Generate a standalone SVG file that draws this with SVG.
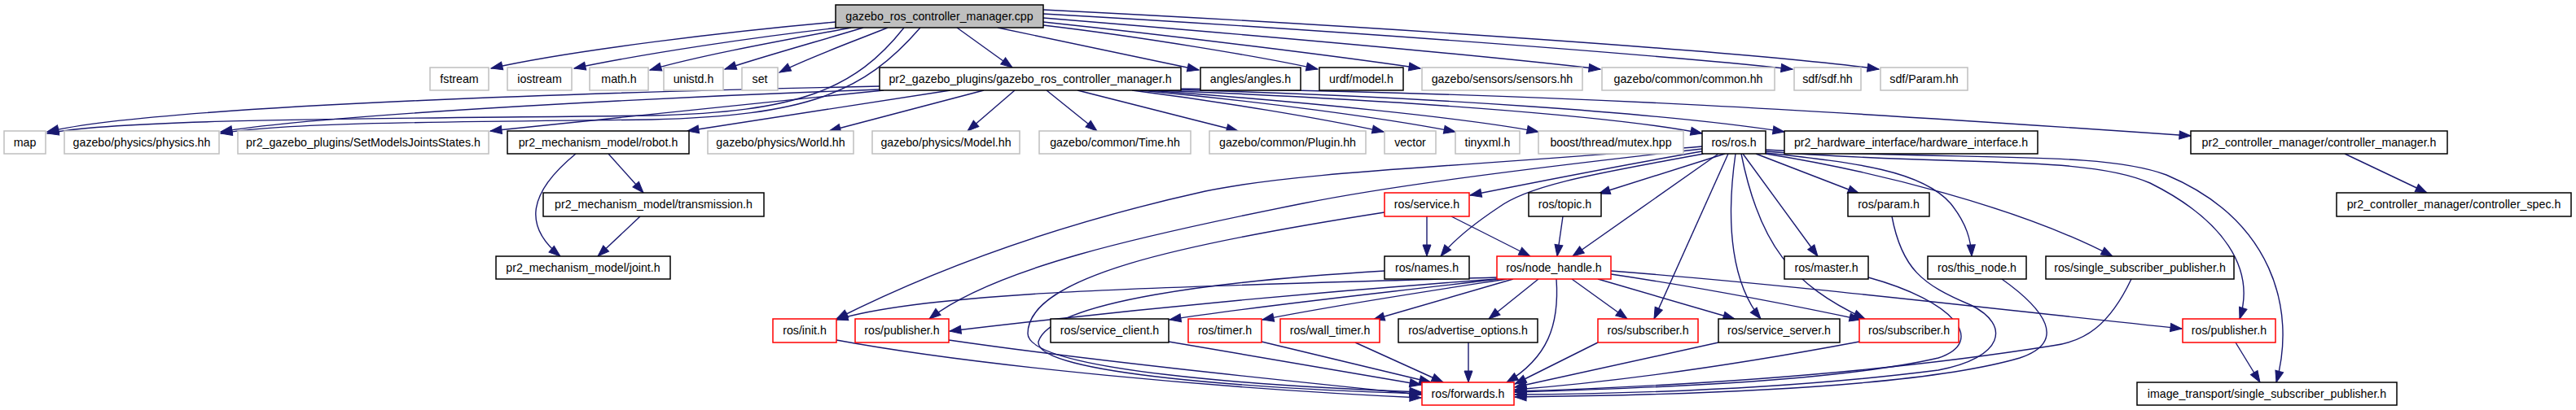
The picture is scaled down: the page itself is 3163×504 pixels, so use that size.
<svg xmlns="http://www.w3.org/2000/svg" width="3163" height="504" viewBox="0 0 3163 504">
<style>
rect{stroke-width:1.5;fill:#fff}
.g rect{stroke:#bfbfbf}
.b rect{stroke:#000}
.r rect{stroke:#f00}
.m rect{stroke:#000;fill:#bfbfbf}
text{font-family:"Liberation Sans",Arial,sans-serif;font-size:14.2px;text-anchor:middle;fill:#000}
#edges path{fill:none;stroke:#191970;stroke-width:1.4;marker-end:url(#a)}
</style>
<defs>
<marker id="a" markerUnits="userSpaceOnUse" markerWidth="16" markerHeight="12" refX="14" refY="5" orient="auto" overflow="visible">
<path d="M0,0 L14,5 L0,10 z" fill="#191970" stroke="#191970" stroke-width="1"/>
</marker>
</defs>
<rect x="0" y="0" width="3163" height="504" fill="#fff" stroke="none"/>
<g id="edges">
<path d="M1026,27 C900,38 700,62 603,84"/>
<path d="M1030,34 C930,45 790,66 705,84"/>
<path d="M1045,34 C960,50 860,68 798,86"/>
<path d="M1060,34 C1000,52 935,70 890,85"/>
<path d="M1090,34 C1045,52 990,72 957,89"/>
<path d="M1110,34 C1050,110 980,138 800,142 C500,146 150,145 58,164"/>
<path d="M1130,34 C1060,115 990,142 800,147 C550,150 350,150 271,164"/>
<path d="M1175,34 L1243,83"/>
<path d="M1225,34 L1472,86"/>
<path d="M1281,31 C1400,45 1550,70 1618,85"/>
<path d="M1281,27 C1450,45 1650,70 1744,84"/>
<path d="M1281,22 C1500,40 1800,66 1965,85"/>
<path d="M1281,17 C1600,35 2000,64 2201,85"/>
<path d="M1281,12 C1700,33 2150,64 2307,85"/>
<path d="M1080,106 C800,112 200,128 58,162"/>
<path d="M1080,110 C850,118 400,140 271,162"/>
<path d="M1085,111 C900,130 700,150 602,161"/>
<path d="M1167,111 L844,161"/>
<path d="M1208,111 L1018,161"/>
<path d="M1246,111 L1188,161"/>
<path d="M1285,111 L1347,161"/>
<path d="M1323,111 L1520,161"/>
<path d="M1390,111 C1500,125 1620,145 1699,162"/>
<path d="M1400,111 C1550,125 1700,145 1787,162"/>
<path d="M1410,111 C1600,125 1800,145 1889,162"/>
<path d="M1420,111 C1700,122 1980,142 2090,164"/>
<path d="M1430,110 C1750,118 2050,140 2191,162"/>
<path d="M1440,109 C1900,113 2300,140 2690,167"/>
<path d="M747,189 L790,237"/>
<path d="M707,189 C645,240 645,280 688,315"/>
<path d="M786,266 L734,315"/>
<path d="M2879,189 L2980,237"/>
<path d="M2090,186 C1980,205 1880,225 1805,240"/>
<path d="M2092,189 C1980,210 1880,225 1840,255 C1810,275 1785,295 1769,315"/>
<path d="M2118,189 L1963,238"/>
<path d="M2110,189 L1931,315"/>
<path d="M2090,180 C1800,205 1600,210 1480,235 C1300,275 1150,330 1027,392"/>
<path d="M2090,183 C1850,210 1700,230 1600,250 C1400,290 1220,330 1141,392"/>
<path d="M2122,189 L2031,392"/>
<path d="M2131,189 C2118,280 2128,350 2162,392"/>
<path d="M2138,189 C2160,300 2200,350 2290,392"/>
<path d="M2140,189 L2232,315"/>
<path d="M2156,189 L2283,238"/>
<path d="M2168,188 C2280,200 2360,210 2395,250 C2415,275 2420,295 2421,315"/>
<path d="M2168,189 C2300,210 2480,255 2594,315"/>
<path d="M2168,186 C2400,205 2560,190 2640,225 C2730,270 2770,330 2750,392"/>
<path d="M2168,184 C2420,198 2580,185 2660,215 C2790,270 2820,380 2795,470"/>
<path d="M1752,266 L1752,315"/>
<path d="M1782,266 L1879,315"/>
<path d="M1919,266 L1912,315"/>
<path d="M1838,341 C1500,352 1150,355 1027,393"/>
<path d="M1838,343 C1600,360 1350,385 1166,407"/>
<path d="M1840,343 C1700,360 1550,375 1436,393"/>
<path d="M1850,343 C1740,360 1640,375 1550,393"/>
<path d="M1858,343 L1686,393"/>
<path d="M1889,343 L1828,392"/>
<path d="M1930,343 L1998,392"/>
<path d="M1962,343 L2130,392"/>
<path d="M1978,337 C2100,355 2200,375 2285,393"/>
<path d="M1978,333 C2200,350 2450,380 2679,404"/>
<path d="M1027,418 C1200,450 1500,478 1745,489"/>
<path d="M1165,418 C1350,445 1600,470 1745,485"/>
<path d="M1700,261 C1450,300 1262,340 1262,410 C1262,455 1550,475 1745,482"/>
<path d="M1700,333 C1500,345 1290,370 1275,420 C1270,460 1550,478 1745,484"/>
<path d="M1435,420 L1745,473"/>
<path d="M1549,420 L1757,470"/>
<path d="M1664,421 L1772,470"/>
<path d="M1803,421 L1803,470"/>
<path d="M1911,343 C1915,400 1900,440 1850,470"/>
<path d="M1962,421 L1860,472"/>
<path d="M2110,421 C2000,445 1920,462 1860,476"/>
<path d="M2283,420 C2150,445 2000,468 1860,479"/>
<path d="M2294,341 C2400,370 2440,420 2380,440 C2250,470 2000,478 1860,482"/>
<path d="M2323,266 C2335,330 2360,350 2420,375 C2470,400 2460,440 2380,455 C2200,478 2000,484 1860,485"/>
<path d="M2458,343 C2510,380 2540,420 2480,440 C2350,478 2050,486 1860,488"/>
<path d="M2617,343 C2590,400 2560,420 2520,425 C2300,460 2050,475 1860,481"/>
<path d="M2745,421 L2775,470"/>
</g>
<g id="n_main" class="m"><rect x="1026" y="6" width="255" height="28"/><text x="1153.5" y="25">gazebo_ros_controller_manager.cpp</text></g>
<g id="n_fstream" class="g"><rect x="528" y="83" width="72" height="28"/><text x="564" y="102">fstream</text></g>
<g id="n_iostream" class="g"><rect x="623" y="83" width="79" height="28"/><text x="662.5" y="102">iostream</text></g>
<g id="n_math" class="g"><rect x="724" y="83" width="72" height="28"/><text x="760" y="102">math.h</text></g>
<g id="n_unistd" class="g"><rect x="815" y="83" width="73" height="28"/><text x="851.5" y="102">unistd.h</text></g>
<g id="n_set" class="g"><rect x="911" y="83" width="44" height="28"/><text x="933" y="102">set</text></g>
<g id="n_gcm_h" class="b"><rect x="1080" y="83" width="370" height="28"/><text x="1265" y="102">pr2_gazebo_plugins/gazebo_ros_controller_manager.h</text></g>
<g id="n_angles" class="b"><rect x="1474" y="83" width="123" height="28"/><text x="1535.5" y="102">angles/angles.h</text></g>
<g id="n_urdf" class="b"><rect x="1620" y="83" width="103" height="28"/><text x="1671.5" y="102">urdf/model.h</text></g>
<g id="n_sensors" class="g"><rect x="1746" y="83" width="197" height="28"/><text x="1844.5" y="102">gazebo/sensors/sensors.hh</text></g>
<g id="n_common" class="g"><rect x="1967" y="83" width="212" height="28"/><text x="2073" y="102">gazebo/common/common.hh</text></g>
<g id="n_sdf" class="g"><rect x="2203" y="83" width="82" height="28"/><text x="2244" y="102">sdf/sdf.hh</text></g>
<g id="n_param_hh" class="g"><rect x="2309" y="83" width="107" height="28"/><text x="2362.5" y="102">sdf/Param.hh</text></g>
<g id="n_map" class="g"><rect x="5" y="161" width="51" height="28"/><text x="30.5" y="180">map</text></g>
<g id="n_physics" class="g"><rect x="79" y="161" width="190" height="28"/><text x="174" y="180">gazebo/physics/physics.hh</text></g>
<g id="n_setmodels" class="g"><rect x="292" y="161" width="308" height="28"/><text x="446" y="180">pr2_gazebo_plugins/SetModelsJointsStates.h</text></g>
<g id="n_robot" class="b"><rect x="623" y="161" width="223" height="28"/><text x="734.5" y="180">pr2_mechanism_model/robot.h</text></g>
<g id="n_world" class="g"><rect x="869" y="161" width="179" height="28"/><text x="958.5" y="180">gazebo/physics/World.hh</text></g>
<g id="n_model" class="g"><rect x="1071" y="161" width="181" height="28"/><text x="1161.5" y="180">gazebo/physics/Model.hh</text></g>
<g id="n_time" class="g"><rect x="1276" y="161" width="186" height="28"/><text x="1369" y="180">gazebo/common/Time.hh</text></g>
<g id="n_plugin" class="g"><rect x="1485" y="161" width="192" height="28"/><text x="1581" y="180">gazebo/common/Plugin.hh</text></g>
<g id="n_vector" class="g"><rect x="1700" y="161" width="63" height="28"/><text x="1731.5" y="180">vector</text></g>
<g id="n_tinyxml" class="g"><rect x="1787" y="161" width="79" height="28"/><text x="1826.5" y="180">tinyxml.h</text></g>
<g id="n_mutex" class="g"><rect x="1889" y="161" width="178" height="28"/><text x="1978" y="180">boost/thread/mutex.hpp</text></g>
<g id="n_ros" class="b"><rect x="2090" y="161" width="78" height="28"/><text x="2129" y="180">ros/ros.h</text></g>
<g id="n_hwif" class="b"><rect x="2191" y="161" width="311" height="28"/><text x="2346.5" y="180">pr2_hardware_interface/hardware_interface.h</text></g>
<g id="n_cm" class="b"><rect x="2690" y="161" width="315" height="28"/><text x="2847.5" y="180">pr2_controller_manager/controller_manager.h</text></g>
<g id="n_transmission" class="b"><rect x="667" y="237" width="271" height="29"/><text x="802.5" y="256">pr2_mechanism_model/transmission.h</text></g>
<g id="n_service" class="r"><rect x="1700" y="237" width="104" height="29"/><text x="1752" y="256">ros/service.h</text></g>
<g id="n_topic" class="b"><rect x="1877" y="237" width="89" height="29"/><text x="1921.5" y="256">ros/topic.h</text></g>
<g id="n_param" class="b"><rect x="2269" y="237" width="100" height="29"/><text x="2319" y="256">ros/param.h</text></g>
<g id="n_cspec" class="b"><rect x="2869" y="237" width="288" height="29"/><text x="3013" y="256">pr2_controller_manager/controller_spec.h</text></g>
<g id="n_joint" class="b"><rect x="609" y="315" width="214" height="28"/><text x="716" y="334">pr2_mechanism_model/joint.h</text></g>
<g id="n_names" class="b"><rect x="1700" y="315" width="104" height="28"/><text x="1752" y="334">ros/names.h</text></g>
<g id="n_nodehandle" class="r"><rect x="1838" y="315" width="140" height="28"/><text x="1908" y="334">ros/node_handle.h</text></g>
<g id="n_master" class="b"><rect x="2191" y="315" width="103" height="28"/><text x="2242.5" y="334">ros/master.h</text></g>
<g id="n_thisnode" class="b"><rect x="2367" y="315" width="121" height="28"/><text x="2427.5" y="334">ros/this_node.h</text></g>
<g id="n_ssp" class="b"><rect x="2512" y="315" width="231" height="28"/><text x="2627.5" y="334">ros/single_subscriber_publisher.h</text></g>
<g id="n_init" class="r"><rect x="949" y="392" width="78" height="29"/><text x="988" y="411">ros/init.h</text></g>
<g id="n_publisher1" class="r"><rect x="1050" y="392" width="115" height="29"/><text x="1107.5" y="411">ros/publisher.h</text></g>
<g id="n_serviceclient" class="b"><rect x="1290" y="392" width="145" height="29"/><text x="1362.5" y="411">ros/service_client.h</text></g>
<g id="n_timer" class="r"><rect x="1459" y="392" width="90" height="29"/><text x="1504" y="411">ros/timer.h</text></g>
<g id="n_walltimer" class="r"><rect x="1572" y="392" width="122" height="29"/><text x="1633" y="411">ros/wall_timer.h</text></g>
<g id="n_advertise" class="b"><rect x="1717" y="392" width="171" height="29"/><text x="1802.5" y="411">ros/advertise_options.h</text></g>
<g id="n_subscriber1" class="r"><rect x="1962" y="392" width="123" height="29"/><text x="2023.5" y="411">ros/subscriber.h</text></g>
<g id="n_serviceserver" class="b"><rect x="2110" y="392" width="149" height="29"/><text x="2184.5" y="411">ros/service_server.h</text></g>
<g id="n_subscriber2" class="r"><rect x="2283" y="392" width="122" height="29"/><text x="2344" y="411">ros/subscriber.h</text></g>
<g id="n_publisher2" class="r"><rect x="2680" y="392" width="114" height="29"/><text x="2737" y="411">ros/publisher.h</text></g>
<g id="n_forwards" class="r"><rect x="1746" y="470" width="113" height="28"/><text x="1802.5" y="489">ros/forwards.h</text></g>
<g id="n_itssp" class="b"><rect x="2624" y="470" width="319" height="28"/><text x="2783.5" y="489">image_transport/single_subscriber_publisher.h</text></g>
</svg>
